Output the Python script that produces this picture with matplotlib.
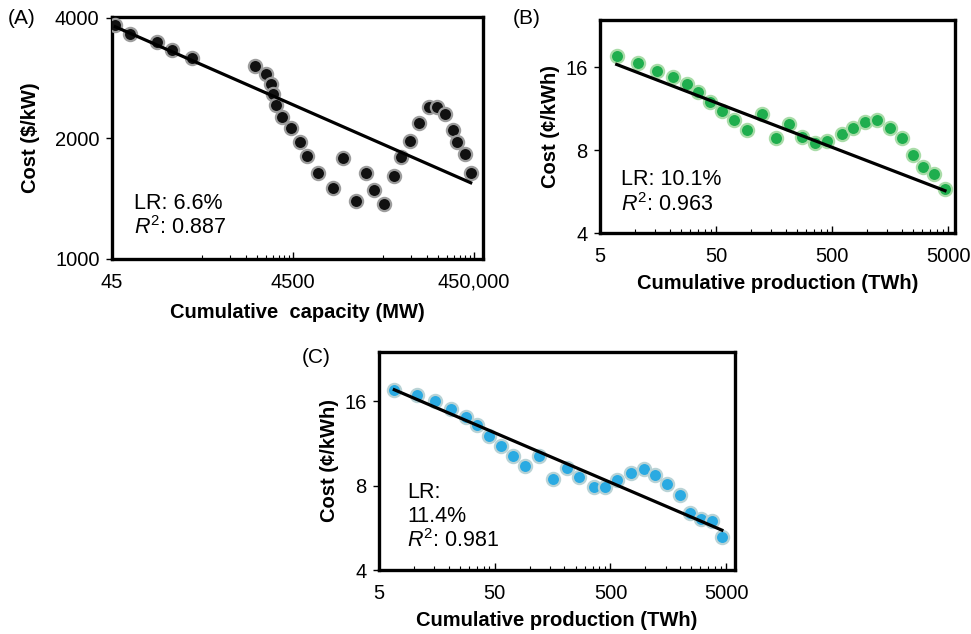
import numpy as np
import matplotlib
matplotlib.use("Agg")
import matplotlib.pyplot as plt
from matplotlib.ticker import FixedLocator, FixedFormatter, NullFormatter

plt.rcParams['font.family'] = ['Liberation Sans', 'DejaVu Sans']
plt.rcParams['mathtext.fontset'] = 'custom'
plt.rcParams['mathtext.rm'] = 'Liberation Sans'
plt.rcParams['mathtext.it'] = 'Liberation Sans:italic'

# ---------------- data ----------------
cap_A = [49, 71, 142, 206, 342, 1710, 2260, 2550, 2690, 2920, 3400, 4240, 5380,
         6380, 8570, 12400, 15900, 22300, 28800, 35600, 45900, 58800, 69700,
         88300, 111000, 143000, 174000, 215000, 266000, 294000, 357000, 414000]
cost_A = [3842, 3648, 3490, 3327, 3184, 3035, 2898, 2737, 2583, 2425, 2267, 2121,
          1957, 1809, 1643, 1502, 1791, 1398, 1643, 1487, 1372, 1612, 1801, 1975,
          2190, 2401, 2401, 2299, 2100, 1957, 1826, 1643]
fit_A = [3800, 1550]   # fitted line cost at first / last capacity

prod_B = [6.97, 10.7, 15.4, 21.2, 27.9, 35.2, 44.4, 56.7, 71.9, 92, 125, 164, 213,
          277, 357, 455, 606, 763, 962, 1230, 1581, 1995, 2510, 3061, 3785, 4710]
cost_B = [17.56, 16.63, 15.52, 14.77, 13.9, 12.99, 11.96, 11.15, 10.33, 9.51, 10.85,
          8.88, 10.0, 8.96, 8.48, 8.64, 9.2, 9.65, 10.14, 10.33, 9.67, 8.88, 7.67,
          6.95, 6.53, 5.79]
fit_B = [16.4, 5.7]

prod_C = [6.78, 10.6, 15.2, 20.9, 28.1, 35, 44.7, 57.1, 72.5, 90.7, 120.5, 160, 212,
          270, 359, 453, 571, 754, 968, 1222, 1541, 1979, 2447, 3025, 3766, 4592]
cost_C = [17.6, 16.9, 16.1, 15.0, 14.1, 13.2, 12.06, 11.1, 10.24, 9.38, 10.17, 8.45,
          9.25, 8.59, 7.92, 7.92, 8.35, 8.88, 9.17, 8.75, 8.12, 7.42, 6.4, 6.08,
          5.97, 5.23]
fit_C = [17.6, 5.55]

LR = [0.066, 0.101, 0.114]
R2 = [0.887, 0.963, 0.981]

xticks_A = [45, 4500, 450000]
xticklabels_A = ["45", "4500", "450,000"]
yticks_A = [1000, 2000, 4000]
xticks_BC = [5, 50, 500, 5000]
yticks_BC = [4, 8, 16]

W, H = 971, 634
fig = plt.figure(figsize=(W / 100, H / 100), dpi=100)


def ax_px(l, r, t, b):
    return fig.add_axes([l / W, (H - b) / H, (r - l) / W, (b - t) / H])


def style(ax, xt, xtl, yt, xminor, xlim, ylim):
    ax.set_xscale('log')
    ax.set_yscale('log')
    ax.set_xlim(*xlim)
    ax.set_ylim(*ylim)
    ax.xaxis.set_major_locator(FixedLocator(xt))
    ax.xaxis.set_major_formatter(FixedFormatter(xtl))
    ax.xaxis.set_minor_locator(FixedLocator(xminor))
    ax.xaxis.set_minor_formatter(NullFormatter())
    ax.yaxis.set_major_locator(FixedLocator(yt))
    ax.yaxis.set_major_formatter(FixedFormatter([str(v) for v in yt]))
    ax.yaxis.set_minor_locator(FixedLocator([]))
    for s in ax.spines.values():
        s.set_linewidth(2.4)
        s.set_color('black')
    ax.tick_params(axis='x', which='major', direction='in', length=5, width=1,
                   labelsize=14.5, pad=10)
    ax.tick_params(axis='x', which='minor', direction='in', length=3, width=0.8)
    ax.tick_params(axis='y', which='major', direction='out', length=4, width=1,
                   labelsize=14.5, pad=5)


def fit_line(x, fit):
    # straight line in log-log space between the fitted values at the ends
    lx = np.log10(np.sort(np.asarray(x, dtype=float)))
    lf = np.log10(fit)
    slope = (lf[1] - lf[0]) / (lx[-1] - lx[0])
    return 10 ** lx, 10 ** (lf[0] + slope * (lx - lx[0]))


def draw(ax, x, y, fit, face, edge):
    ax.plot(x, y, 'o', ms=9.5, mfc=face, mec=edge, mew=1.6, ls='none', zorder=3)
    fx, fy = fit_line(x, fit)
    ax.plot(fx, fy, '-', color='black', lw=2.3, zorder=4)


# ---------- Panel A ----------
axA = ax_px(112, 483, 17, 259)
minor_A = [450 * k for k in range(1, 10)] + [45000 * k for k in range(1, 10)]
draw(axA, cap_A, cost_A, fit_A, '#111111', '#9c9c9c')
style(axA, xticks_A, xticklabels_A, yticks_A, minor_A, (45, 566000), (1000, 4020))
axA.set_xlabel("Cumulative  capacity (MW)", fontsize=14.5, fontweight='bold', labelpad=8)
axA.set_ylabel("Cost ($/kW)", fontsize=14.5, fontweight='bold', labelpad=11)
axA.text(0.058, 0.23, "LR: %.1f%%" % (LR[0] * 100), transform=axA.transAxes,
         fontsize=15.5, va='center')
axA.text(0.058, 0.13, r"$R^{2}$: %.3f" % R2[0], transform=axA.transAxes,
         fontsize=15.5, va='center')
fig.text(8 / W, 1 - 18 / H, "(A)", fontsize=15, va='center', ha='left')

# ---------- Panel B ----------
minor_BC = [5 * k * 10 ** n for n in range(3) for k in range(2, 10)]
axB = ax_px(600, 955, 20, 233)
draw(axB, prod_B, cost_B, fit_B, '#1fae4e', '#a9dca8')
style(axB, xticks_BC, [str(v) for v in xticks_BC], yticks_BC, minor_BC, (5, 5745), (4, 23.8))
axB.set_xlabel("Cumulative production (TWh)", fontsize=14.5, fontweight='bold', labelpad=6)
axB.set_ylabel("Cost (¢/kWh)", fontsize=14.5, fontweight='bold', labelpad=4)
axB.text(0.06, 0.25, "LR: %.1f%%" % (LR[1] * 100), transform=axB.transAxes,
         fontsize=15.5, va='center')
axB.text(0.06, 0.135, r"$R^{2}$: %.3f" % R2[1], transform=axB.transAxes,
         fontsize=15.5, va='center')
fig.text(513 / W, 1 - 18 / H, "(B)", fontsize=15, va='center', ha='left')

# ---------- Panel C ----------
axC = ax_px(379, 735, 352, 570)
draw(axC, prod_C, cost_C, fit_C, '#2aaae2', '#b9d3d6')
style(axC, xticks_BC, [str(v) for v in xticks_BC], yticks_BC, minor_BC, (5, 5960), (4, 24))
axC.set_xlabel("Cumulative production (TWh)", fontsize=14.5, fontweight='bold', labelpad=6)
axC.set_ylabel("Cost (¢/kWh)", fontsize=14.5, fontweight='bold', labelpad=4)
axC.text(0.08, 0.355, "LR:", transform=axC.transAxes, fontsize=15.5, va='center')
axC.text(0.08, 0.245, "%.1f%%" % (LR[2] * 100), transform=axC.transAxes,
         fontsize=15.5, va='center')
axC.text(0.08, 0.135, r"$R^{2}$: %.3f" % R2[2], transform=axC.transAxes,
         fontsize=15.5, va='center')
fig.text(302 / W, 1 - 357 / H, "(C)", fontsize=15, va='center', ha='left')

fig.savefig("out.png", dpi=100)
